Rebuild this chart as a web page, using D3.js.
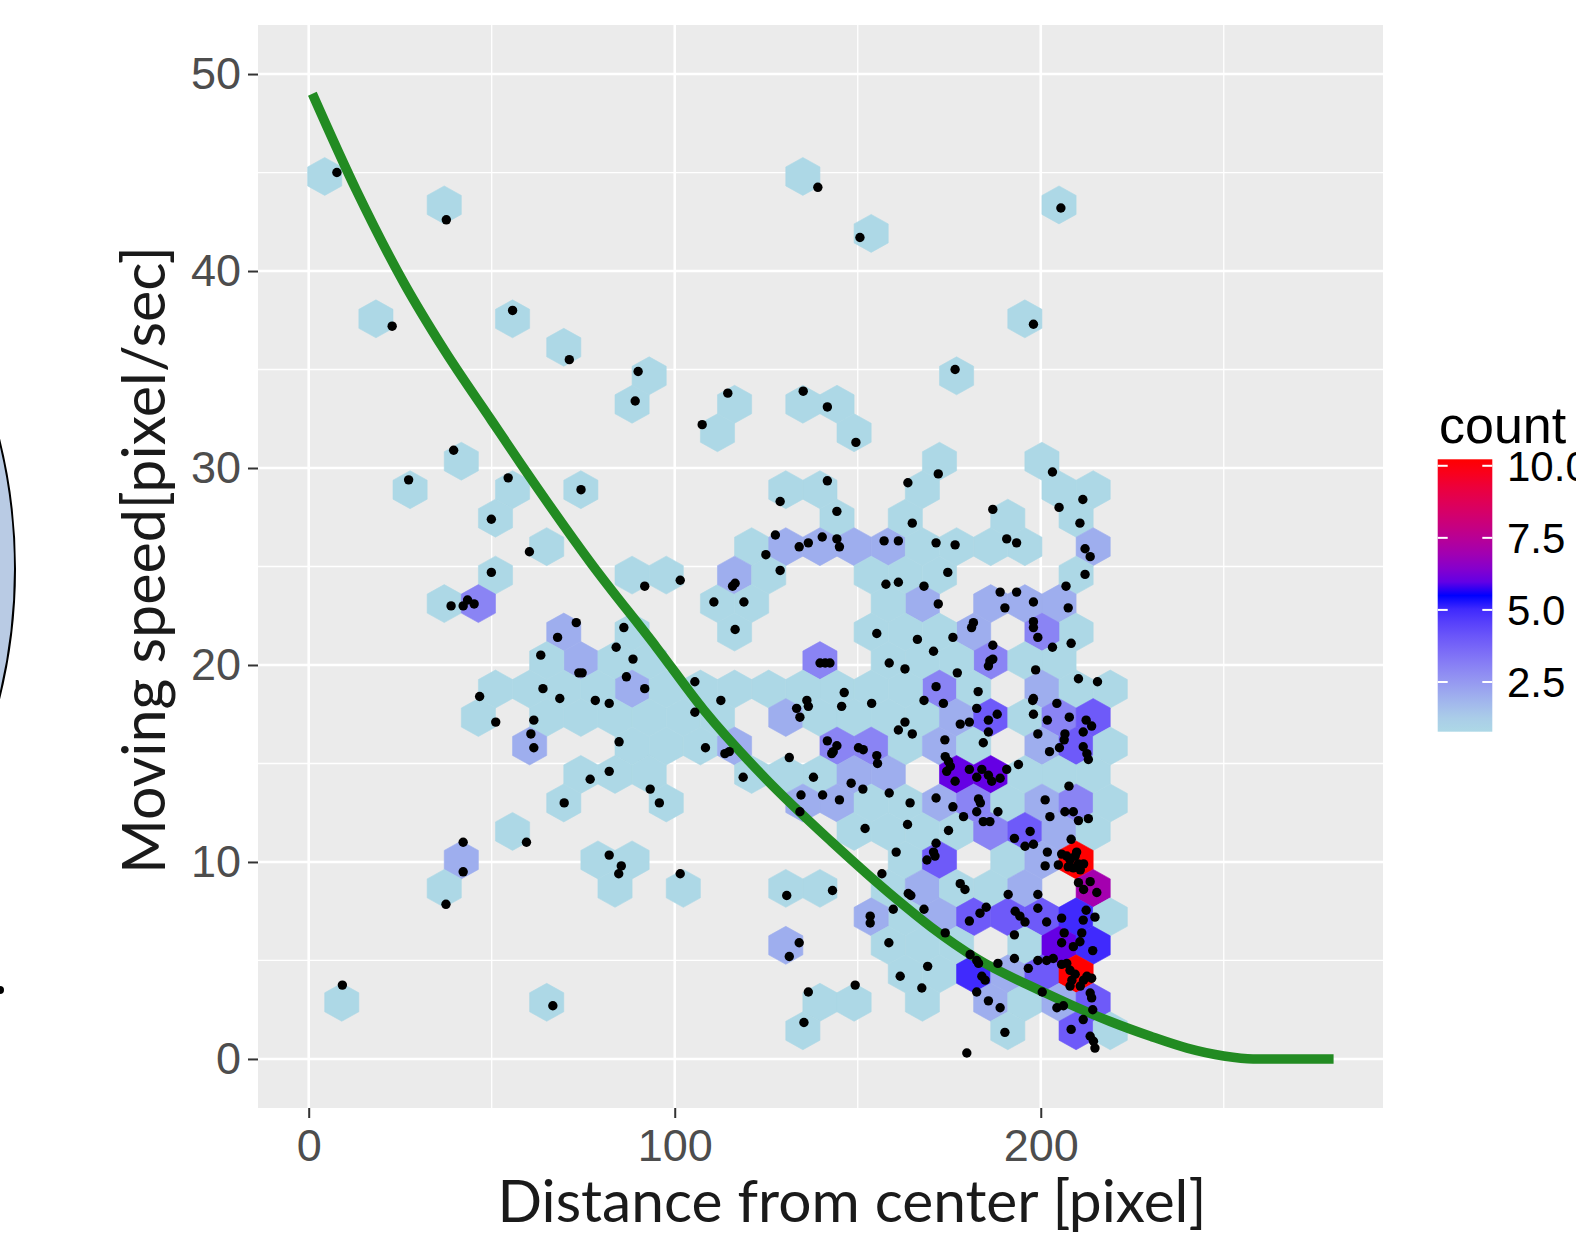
<!DOCTYPE html>
<html>
<head>
<meta charset="utf-8">
<script src="https://cdn.jsdelivr.net/npm/d3@7"></script>
<style>
  body { margin: 0; background: #fff; }
  svg { display: block; }
</style>
</head>
<body>
<div id="hexplot"></div>
<script>
// hexbin cells: [row, column, count] on the bin grid
const hexBins = [
  [30,0,1],[29,3,1],[30,14,1],[28,16,1],[29,21,1],[25,1,1],[25,5,1],[24,7,1],[25,20,1],[23,18,1],
  [23,9,1],[22,9,1],[22,12,1],[21,11,1],[22,14,1],[22,15,1],[21,15,1],[20,18,1],[20,21,1],
  [20,4,1],[19,2,1],[19,5,1],[18,5,1],[19,7,1],[17,6,1],[16,5,1],[15,3,1],[15,4,3],[16,9,1],[16,10,1],[15,11,1],
  [14,7,2],[13,7,2],[13,6,1],[13,8,1],[14,9,1],[13,9,1],[12,9,2],[12,10,1],[12,5,1],[12,6,1],[12,7,1],[12,8,1],
  [11,4,1],[11,6,1],[11,7,1],[11,8,1],[11,9,1],[11,10,1],[10,6,2],[10,9,1],[10,10,1],[10,11,1],
  [9,7,1],[9,8,1],[9,9,1],[8,7,1],[8,10,1],
  [7,5,1],[6,4,2],[5,3,1],[6,8,1],[6,9,1],[5,8,1],[5,10,1],[1,0,1],[1,6,1],
  [19,13,1],[19,14,1],[18,15,1],[17,12,1],[17,13,2],[17,14,2],[17,15,2],[17,16,2],[19,17,1],[18,17,1],
  [19,21,1],[19,22,1],[18,22,1],[17,22,2],[16,22,1],[18,20,1],[17,17,1],[17,18,1],[17,19,1],[17,20,1],[16,17,1],[16,18,1],
  [15,17,2],[15,19,2],[15,20,2],[15,21,2],[14,22,1],[14,19,2],[14,21,3],[14,17,1],[14,18,1],
  [13,19,3],[13,20,1],[13,21,1],[13,17,1],[13,18,1],
  [12,18,3],[12,19,1],[12,21,2],[12,22,1],[12,23,1],
  [16,12,2],[16,13,1],[15,12,1],[14,12,1],[16,16,1],[15,16,1],[14,16,1],[13,16,1],[13,14,3],
  [12,11,1],[12,12,1],[12,13,1],[12,14,1],[12,15,1],[12,16,1],[12,17,1],[11,11,1],
  [11,13,2],[11,14,1],[11,15,1],[11,16,1],[11,17,1],[10,12,2],[10,15,3],[10,16,3],[10,17,1],
  [9,12,1],[9,13,1],[9,14,1],[8,14,2],[8,15,2],[9,15,2],[9,16,2],[7,15,1],[8,16,1],[8,17,1],[7,16,1],[6,17,1],
  [5,13,1],[5,14,1],[5,16,1],
  [11,18,2],[11,19,4],[11,20,1],[11,21,3],[11,22,4],
  [10,18,2],[10,19,1],[10,21,2],[10,22,4],[10,23,1],
  [9,18,6],[9,19,6],[9,20,1],[9,21,1],[9,22,1],
  [8,18,2],[8,19,3],[8,20,1],[8,21,2],[8,22,3],[8,23,1],
  [7,17,1],[7,18,1],[7,19,3],[7,20,4],[7,21,2],[7,22,1],
  [6,18,4],[6,20,1],[6,21,2],[6,22,10],
  [5,17,2],[5,18,1],[5,19,1],[5,20,2],[5,22,7],
  [4,17,1],[4,18,2],[4,19,4],[4,20,4],[4,21,4],[4,22,5],[4,23,1],
  [3,17,1],[3,18,1],[3,20,1],[3,21,6],[3,22,5],
  [2,17,1],[2,18,1],[2,19,5],[2,20,2],[2,21,4],[2,22,10],
  [1,17,1],[1,19,2],[1,20,1],[1,21,2],[1,22,4],
  [0,20,1],[0,22,4],[0,23,1],
  [3,13,2],[4,16,2],[3,16,1],[1,14,1],[1,15,1],[0,14,1]
];

// bin grid in data units
const binWidth = 9.331, binHeight = 1.4457, binX0 = 4.372, binY0 = 1.431;

// raw observations [distance, speed]
const points = [
  [7.7,45.0],[37.6,42.6],[22.8,37.2],[55.7,38.0],[71.2,35.5],[90.0,34.9],[89.2,33.4],[107.5,32.2],[39.6,30.9],
  [139.1,44.25],[150.6,41.7],[205.5,43.2],[198.0,37.3],[176.6,35.0],[114.5,33.8],[135.1,33.9],[141.7,33.1],[149.5,31.3],
  [27.3,29.4],[54.5,29.5],[74.4,28.9],[49.9,27.4],[60.3,25.75],[49.9,24.7],[38.9,23.0],[42.2,23.0],[43.4,23.3],[45.2,23.1],[91.8,24.0],[101.5,24.3],
  [73.1,22.15],[68.0,21.4],[63.4,20.5],[73.8,19.6],[74.7,19.6],[86.1,21.9],[84.0,20.9],[88.6,20.3],[86.8,19.4],[91.8,18.8],[105.5,19.15],[105.5,17.6],[108.4,15.8],
  [46.7,18.4],[64.0,18.8],[68.6,18.3],[78.3,18.2],[82.1,18.05],[51.1,17.1],[61.5,17.2],[60.7,16.5],[61.5,15.8],[84.8,16.1],[76.9,14.2],[82.1,14.6],[93.3,13.7],[69.8,13.0],[95.8,13.0],
  [59.5,11.0],[42.2,11.0],[42.2,9.5],[37.5,7.85],[82.1,10.35],[85.4,9.8],[84.7,9.4],[101.5,9.4],[9.2,3.75],[66.7,2.7],
  [141.7,29.35],[128.8,28.3],[144.3,27.8],[163.7,29.25],[164.9,27.2],[127.5,26.6],[124.9,25.6],[134.0,26.0],[136.5,26.2],[140.3,26.5],[144.3,26.4],[145.0,26.0],[157.2,26.3],[161.1,26.3],
  [128.8,24.8],[116.5,24.15],[115.8,24.0],[110.7,23.2],[118.9,23.2],[116.5,21.8],[157.7,24.1],[161.1,24.2],[168.1,24.0],[155.2,21.6],[166.3,21.3],[158.6,20.1],[162.9,19.8],[139.7,20.1],[141.1,20.1],[142.4,20.1],
  [112.6,18.2],[136.1,18.2],[136.5,17.9],[133.3,17.8],[146.3,18.6],[145.6,17.9],[153.8,18.05],[168.1,18.2],
  [172.0,29.7],[203.2,29.8],[205.0,28.0],[211.5,28.4],[210.7,27.2],[186.9,27.9],[212.1,25.9],[213.5,25.5],[171.4,26.2],[176.6,26.1],[190.7,26.4],[193.4,26.2],[174.6,24.7],[212.1,24.6],[206.9,24.0],
  [172.0,23.1],[188.9,23.7],[193.4,23.7],[190.2,22.9],[198.0,23.2],[207.5,22.9],[208.3,21.1],[181.6,22.15],[181.1,21.9],[198.0,22.2],[198.0,21.9],[199.2,21.4],[203.2,20.9],[176.0,21.4],[170.7,20.7],
  [186.9,21.0],[186.9,20.3],[185.7,19.95],[186.1,20.2],[198.6,19.75],[177.2,19.6],[210.3,19.3],[215.5,19.15],[171.4,18.9],[173.4,18.05],[182.9,18.65],[198.0,18.3],[197.8,18.2],[204.4,18.05],
  [134.2,17.35],[162.9,17.1],[161.1,16.7],[164.9,16.5],[113.7,15.5],[114.9,15.6],[131.3,15.3],[141.7,16.15],[144.3,15.9],[143.3,15.6],[142.9,15.5],[150.2,15.8],[151.5,15.7],[155.2,15.4],[155.4,15.0],
  [118.7,14.3],[137.9,14.3],[148.2,14.0],[151.4,13.7],[158.6,13.5],[134.5,13.4],[140.4,13.4],[145.0,13.15],[134.2,12.55],[164.3,13.0],[163.6,11.9],[152.0,11.7],[160.5,10.5],[156.6,9.4],[130.6,8.3],[143.1,8.55],
  [163.8,8.4],[164.5,8.3],[159.7,7.6],[168.1,7.6],[153.4,7.25],[153.4,6.9],[158.5,5.9],[134.0,5.9],[131.3,5.2],[161.6,4.2],[167.5,3.6],[169.1,4.7],[136.5,3.4],[149.3,3.75],[135.3,1.85],
  [182.5,17.8],[185.7,17.2],[188.1,17.5],[185.7,16.6],[178.0,17.0],[180.5,17.1],[173.8,16.2],[184.3,16.05],[198.0,17.5],[199.2,16.5],[201.8,17.2],[207.8,17.35],[212.4,17.2],[213.9,16.9],[211.6,16.6],[206.6,16.5],[206.4,16.2],[202.4,15.6],[205.1,15.8],[211.6,15.85],[212.6,15.5],[213.0,15.2],
  [173.9,15.35],[174.8,15.1],[175.3,14.85],[174.3,14.6],[176.6,14.1],[180.5,14.7],[182.5,14.3],[183.9,14.7],[185.7,14.4],[186.6,14.1],[188.9,14.25],[190.7,14.7],[193.9,14.95],[207.7,13.85],
  [171.4,13.25],[176.0,12.8],[178.9,12.3],[183.0,13.2],[183.5,13.0],[182.5,12.55],[188.3,12.55],[201.2,13.15],[202.5,12.3],[206.6,12.55],[208.9,12.55],[210.3,12.1],[213.0,12.2],
  [174.8,11.6],[184.3,12.05],[186.1,12.05],[192.8,11.2],[195.7,10.8],[197.1,11.55],[198.0,10.9],[208.3,11.15],[201.8,10.5],[168.9,10.1],[170.7,10.5],[171.1,10.3],[171.4,10.95],[201.2,9.8],
  [205.7,10.4],[207.1,10.3],[208.0,10.1],[209.4,10.3],[210.3,9.9],[208.9,9.7],[210.8,9.6],[211.7,9.9],[207.5,9.75],[209.8,10.5],[204.8,9.85],
  [178.0,8.9],[179.3,8.6],[191.1,8.35],[199.2,8.35],[213.5,9.0],[215.3,8.45],[210.3,8.95],[211.7,8.6],
  [180.5,7.0],[183.4,7.4],[185.1,7.7],[193.0,7.5],[194.3,7.25],[195.7,6.95],[199.2,7.65],[201.6,6.95],[205.7,7.15],[212.4,7.55],[211.6,7.05],[214.8,7.2],[211.2,6.4],[210.7,5.95],[214.2,5.5],[206.4,6.4],[205.7,5.9],[203.4,5.1],[208.9,5.7],[192.8,6.3],[192.8,5.1],
  [183.0,4.85],[183.9,4.2],[184.8,4.0],[182.5,3.4],[188.3,4.85],[196.6,4.6],[199.2,5.0],[201.6,5.0],[205.7,4.8],
  [207.1,4.85],[208.0,4.5],[209.4,4.3],[208.5,4.0],[211.7,4.0],[212.6,4.2],[213.9,4.1],[210.8,3.7],[208.0,3.7],
  [185.7,2.95],[188.9,2.6],[200.4,3.4],[204.4,2.6],[206.2,2.7],[213.5,3.35],[213.9,3.1],[214.2,2.5],[190.2,1.35],[208.3,1.5],[211.6,2.0],[213.5,1.15],[214.4,0.9],[214.8,0.55],[179.8,0.3],[173.9,6.4],[180.7,5.3],[182.5,5.0]
];

// fitted curve
const fitCurve = [
  [1,49.0],[13,44.1],[26,39.4],[37,36.0],[50,32.4],[58,30.2],[77,25.2],[95,20.9],[108,17.7],[125,14.2],
  [143,11.0],[160,8.2],[170,6.7],[182.5,5.1],[200.7,3.4],[219,1.9],[230,1.15],[240,0.55],[250,0.15],[258,0],[280,0]
];

const xTicks = [0, 100, 200];
const xMinor = [50, 150, 250];
const yTicks = [0, 10, 20, 30, 40, 50];
const yMinor = [5, 15, 25, 35, 45];
const countTicks = [2.5, 5, 7.5, 10];
const countLabels = ['2.5', '5.0', '7.5', '10.0'];

let width = 1576, height = 1237;
let panel = {left: 258, right: 1383, top: 25, bottom: 1108};

let svg = d3.select('#hexplot')
            .append('svg')
            .attr('width', width)
            .attr('height', height)
            .style('background', '#fff');

// part of the neighbouring figure, cut by the left edge
svg.append('circle')
    .attr('cx', -522).attr('cy', 569).attr('r', 537)
    .attr('fill', '#b9cbe4').attr('stroke', '#000').attr('stroke-width', 2);
svg.append('circle')
    .attr('cx', 0).attr('cy', 990).attr('r', 4).attr('fill', '#000');

let xScale = d3.scaleLinear()
               .domain([-13.85, 293.5])
               .range([panel.left, panel.right]);
let yScale = d3.scaleLinear()
               .domain([-2.49, 52.49])
               .range([panel.bottom, panel.top]);

let color = d3.scaleLinear()
              .domain([1, 5.5, 10])
              .range(['lightblue', 'blue', 'red'])
              .interpolate(d3.interpolateLab);

// panel and grid
svg.append('rect')
    .attr('x', panel.left).attr('y', panel.top)
    .attr('width', panel.right - panel.left)
    .attr('height', panel.bottom - panel.top)
    .attr('fill', '#ebebeb');

let grid = svg.append('g');
xMinor.forEach(v => grid.append('line')
    .attr('x1', xScale(v)).attr('x2', xScale(v))
    .attr('y1', panel.top).attr('y2', panel.bottom)
    .attr('stroke', '#fff').attr('stroke-width', 1.3));
yMinor.forEach(v => grid.append('line')
    .attr('x1', panel.left).attr('x2', panel.right)
    .attr('y1', yScale(v)).attr('y2', yScale(v))
    .attr('stroke', '#fff').attr('stroke-width', 1.3));
xTicks.forEach(v => grid.append('line')
    .attr('x1', xScale(v)).attr('x2', xScale(v))
    .attr('y1', panel.top).attr('y2', panel.bottom)
    .attr('stroke', '#fff').attr('stroke-width', 2.6));
yTicks.forEach(v => grid.append('line')
    .attr('x1', panel.left).attr('x2', panel.right)
    .attr('y1', yScale(v)).attr('y2', yScale(v))
    .attr('stroke', '#fff').attr('stroke-width', 2.6));

// hexagons
function hexPath(d) {
  const cx = binX0 + (d[1] + (d[0] % 2 ? 0.5 : 0)) * binWidth;
  const cy = binY0 + d[0] * binHeight;
  const dx = binWidth / 2, dy = binHeight / 3;
  const corners = [[cx + dx, cy + dy], [cx, cy + 2 * dy], [cx - dx, cy + dy],
                   [cx - dx, cy - dy], [cx, cy - 2 * dy], [cx + dx, cy - dy]];
  return 'M' + corners.map(p => xScale(p[0]) + ',' + yScale(p[1])).join('L') + 'Z';
}

svg.append('g')
    .selectAll('path')
    .data(hexBins)
    .enter()
    .append('path')
    .attr('d', hexPath)
    .attr('fill', d => color(d[2]))
    .attr('stroke', d => color(d[2]))
    .attr('stroke-width', 0.6);

// fitted curve
let line = d3.line()
             .x(d => xScale(d[0]))
             .y(d => yScale(d[1]))
             .curve(d3.curveMonotoneX);

svg.append('path')
    .datum(fitCurve)
    .attr('fill', 'none')
    .attr('stroke', '#228b22')
    .attr('stroke-width', 9.5)
    .attr('d', line);

// points
svg.append('g')
    .selectAll('circle')
    .data(points)
    .enter()
    .append('circle')
    .attr('cx', d => xScale(d[0]))
    .attr('cy', d => yScale(d[1]))
    .attr('r', 4.7)
    .attr('fill', '#000');

// axes
let yAxis = svg.append('g')
    .attr('transform', `translate(${panel.left},0)`)
    .call(d3.axisLeft(yScale).tickValues(yTicks).tickSize(10).tickPadding(7));
let xAxis = svg.append('g')
    .attr('transform', `translate(0,${panel.bottom})`)
    .call(d3.axisBottom(xScale).tickValues(xTicks).tickSize(10).tickPadding(11));

[xAxis, yAxis].forEach(ax => {
  ax.select('.domain').remove();
  ax.selectAll('line').attr('stroke', '#333').attr('stroke-width', 2);
  ax.selectAll('text')
    .attr('fill', '#4d4d4d')
    .style('font-family', 'Liberation Sans, Arial, sans-serif')
    .style('font-size', '45px');
});

// axis titles, sized to the span they cover in the figure
function fitText(sel, target) {
  const w = sel.node().getComputedTextLength();
  sel.style('font-size', (56 * target / w) + 'px');
}

let xTitle = svg.append('text')
    .attr('x', 852)
    .attr('y', 1222)
    .attr('text-anchor', 'middle')
    .style('font-family', 'Lato, sans-serif')
    .style('font-size', '56px')
    .attr('fill', '#1a1a1a')
    .text('Distance from center [pixel]');
fitText(xTitle, 709);

let yTitle = svg.append('text')
    .attr('transform', 'translate(165,560) rotate(-90)')
    .attr('text-anchor', 'middle')
    .style('font-family', 'Lato, sans-serif')
    .style('font-size', '56px')
    .attr('fill', '#1a1a1a')
    .text('Moving speed[pixel/sec]');
fitText(yTitle, 628);

// colour bar legend
let legendScale = d3.scaleLinear().domain([0.775, 10.225]).range([731.7, 459.3]);
let defs = svg.append('defs');
let grad = defs.append('linearGradient')
    .attr('id', 'countGrad')
    .attr('x1', 0).attr('y1', 1).attr('x2', 0).attr('y2', 0);
d3.range(0, 21).forEach(i => {
  const v = 0.775 + i * (10.225 - 0.775) / 20;
  grad.append('stop')
      .attr('offset', i / 20)
      .attr('stop-color', color(Math.max(1, Math.min(10, v))));
});

let barX = 1437.7, barW = 54.6;
svg.append('rect')
    .attr('x', barX).attr('y', legendScale(10.225))
    .attr('width', barW)
    .attr('height', legendScale(0.775) - legendScale(10.225))
    .attr('fill', 'url(#countGrad)');

countTicks.forEach((v, i) => {
  const y = legendScale(v);
  svg.append('line').attr('x1', barX).attr('x2', barX + 10)
      .attr('y1', y).attr('y2', y).attr('stroke', '#fff').attr('stroke-width', 2);
  svg.append('line').attr('x1', barX + barW - 10).attr('x2', barX + barW)
      .attr('y1', y).attr('y2', y).attr('stroke', '#fff').attr('stroke-width', 2);
  svg.append('text')
      .attr('x', 1507)
      .attr('y', y)
      .attr('dy', '0.36em')
      .style('font-family', 'Liberation Sans, Arial, sans-serif')
      .style('font-size', '42px')
      .attr('fill', '#000')
      .text(countLabels[i]);
});

svg.append('text')
    .attr('x', 1439)
    .attr('y', 443)
    .style('font-family', 'Liberation Sans, Arial, sans-serif')
    .style('font-size', '52px')
    .attr('fill', '#000')
    .text('count');
</script>
</body>
</html>
